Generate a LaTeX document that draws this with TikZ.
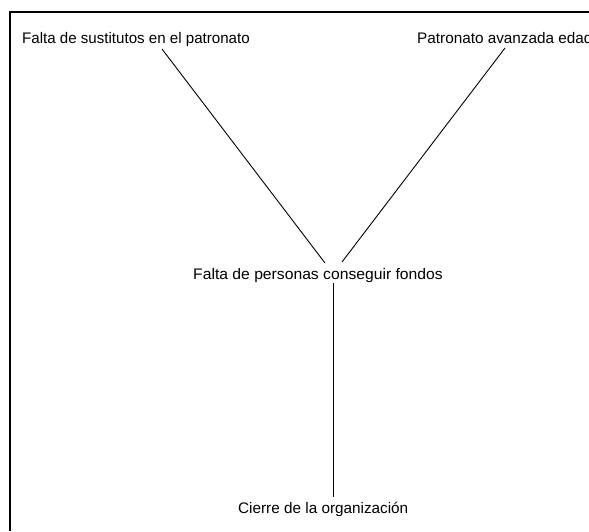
\documentclass[tikz,border=0pt]{standalone}
\usepackage{fontspec}
\setmainfont{Liberation Sans}
\begin{document}
\begin{tikzpicture}[x=1pt,y=-1pt,
  lbl/.style={inner sep=0pt,anchor=base west,font=\fontsize{15.3}{18}\selectfont},
  conn/.style={line width=0.9pt},
  frame/.style={line width=2pt}]
\useasboundingbox (0,0) rectangle (589,531);
\begin{scope}
\clip (0,0) rectangle (589,531);
\fill[white] (0,0) rectangle (589,531);
\coordinate (fa) at (589,12);
\coordinate (fb) at (10,12);
\coordinate (fc) at (10,531);
\draw[frame] (fa) -- (fb) -- (fc);
\node[lbl,xscale=0.987] (a) at (22,43) {Falta de sustitutos en el patronato};
\node[lbl] (b) at (417,43) {Patronato avanzada edad};
\node[lbl,xscale=1.026] (c) at (193,279) {Falta de personas conseguir fondos};
\node[lbl] (d) at (238,513) {Cierre de la organización};
\coordinate (a1) at (162,49);
\coordinate (c1) at (325,263);
\coordinate (b1) at (505,48);
\coordinate (c2) at (342,262);
\coordinate (c3) at (333,283);
\coordinate (d1) at (333,497);
\draw[conn] (a1) -- (c1);
\draw[conn] (b1) -- (c2);
\draw[conn] (c3) -- (d1);
\end{scope}
\end{tikzpicture}
\end{document}
